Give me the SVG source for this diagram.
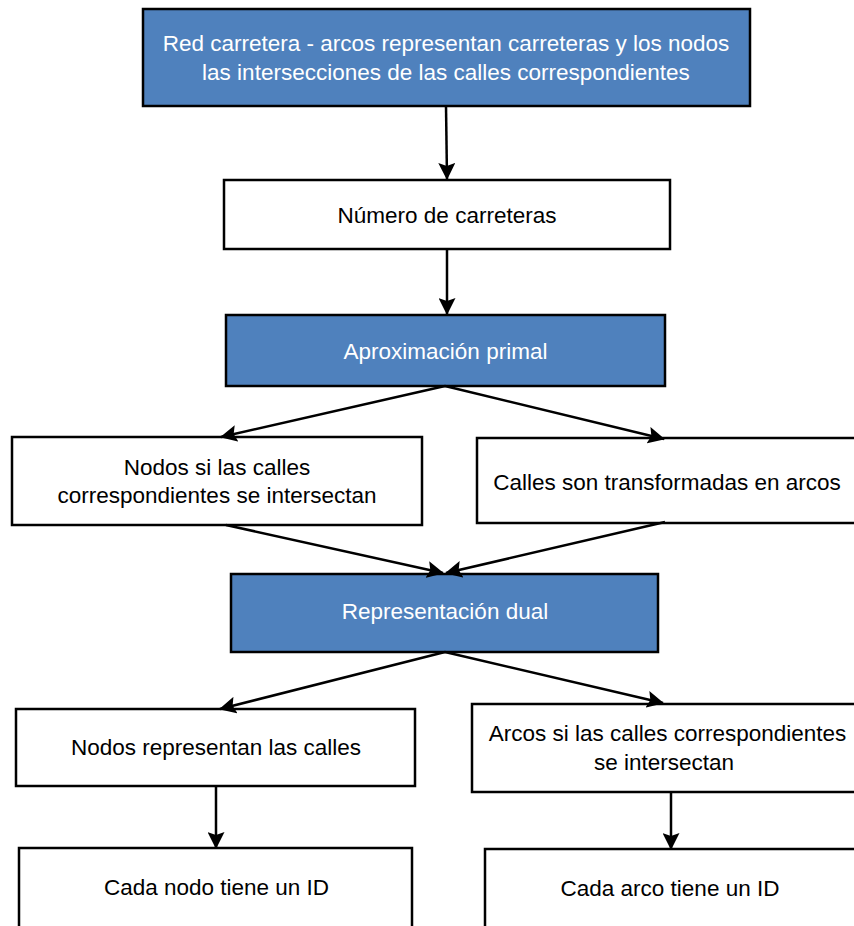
<svg xmlns="http://www.w3.org/2000/svg" width="854" height="926" viewBox="0 0 854 926">
<style>
.blue{fill:#4F81BD;stroke:#000;stroke-width:2.5}
.white{fill:#fff;stroke:#000;stroke-width:2.5}
text{font-family:"Liberation Sans",Arial,sans-serif;font-size:22.5px;text-anchor:middle}
.lt{fill:#fff}
.dk{fill:#000}
.con line{stroke:#000;stroke-width:2.5;marker-end:url(#ah)}
</style>
<defs>
<marker id="ah" viewBox="0 0 17 17" markerWidth="17" markerHeight="17" refX="16" refY="8.5" orient="auto" markerUnits="userSpaceOnUse">
<path d="M0,0 L17,8.5 L0,17 L3,8.5 z" fill="#000"/>
</marker>
</defs>
<rect width="854" height="926" fill="#fff"/>
<g id="n1"><rect class="blue" x="143" y="9" width="607" height="97" stroke-width="3"/>
<text class="lt" x="446" y="51">Red carretera - arcos representan carreteras y los nodos</text>
<text class="lt" x="446" y="80">las intersecciones de las calles correspondientes</text></g>
<g id="n2"><rect class="white" x="224" y="180" width="446" height="69"/>
<text class="dk" x="447" y="223">Número de carreteras</text></g>
<g id="n3"><rect class="blue" x="226" y="315" width="439" height="71"/>
<text class="lt" x="445.5" y="359">Aproximación primal</text></g>
<g id="n4"><rect class="white" x="12" y="437" width="410" height="88"/>
<text class="dk" x="217" y="475">Nodos si las calles</text>
<text class="dk" x="217" y="503">correspondientes se intersectan</text></g>
<g id="n5"><rect class="white" x="477" y="438" width="382" height="85"/>
<text class="dk" x="667" y="490">Calles son transformadas en arcos</text></g>
<g id="n6"><rect class="blue" x="231" y="574" width="427" height="78"/>
<text class="lt" x="445" y="619">Representación dual</text></g>
<g id="n7"><rect class="white" x="16" y="709" width="399" height="77"/>
<text class="dk" x="216" y="755">Nodos representan las calles</text></g>
<g id="n8"><rect class="white" x="472" y="704" width="392" height="88"/>
<text class="dk" x="667.5" y="741">Arcos si las calles correspondientes</text>
<text class="dk" x="664" y="770">se intersectan</text></g>
<g id="n9"><rect class="white" x="19" y="848" width="393" height="90"/>
<text class="dk" x="216.5" y="895">Cada nodo tiene un ID</text></g>
<g id="n10"><rect class="white" x="485" y="849" width="380" height="90"/>
<text class="dk" x="670" y="896">Cada arco tiene un ID</text></g>
<g id="connectors" class="con">
<line x1="446" y1="106" x2="447" y2="179"/>
<line x1="447" y1="249" x2="447" y2="314"/>
<line x1="445" y1="386" x2="221" y2="437"/>
<line x1="445" y1="386" x2="664" y2="439"/>
<line x1="226" y1="525" x2="443" y2="573"/>
<line x1="665" y1="522" x2="446" y2="573"/>
<line x1="445" y1="652" x2="220" y2="709"/>
<line x1="445" y1="652" x2="663" y2="703"/>
<line x1="216" y1="786" x2="216" y2="848"/>
<line x1="671" y1="792" x2="671" y2="849"/>
</g>
</svg>
